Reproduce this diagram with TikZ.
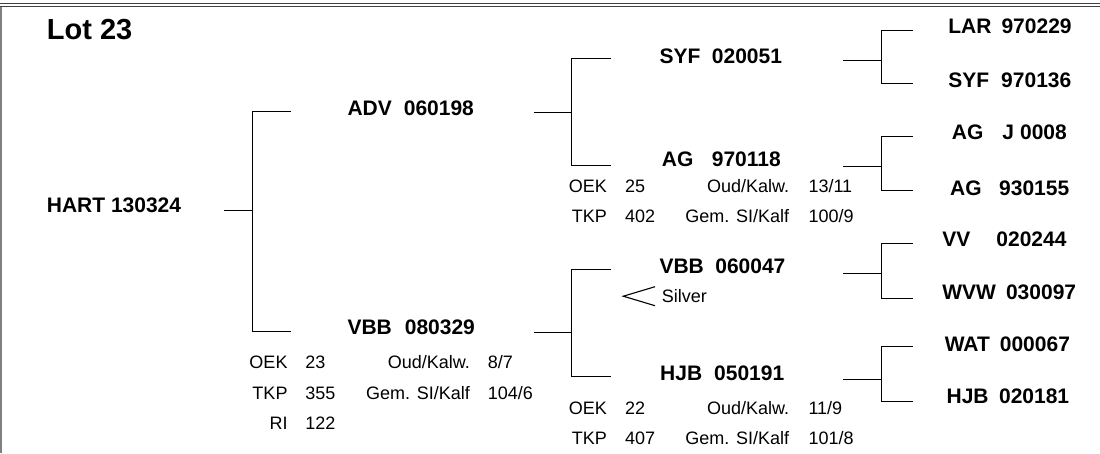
\documentclass[tikz,border=0pt]{standalone}
\usepackage{fontspec}
\setmainfont{Liberation Sans}
\begin{document}
\begin{tikzpicture}[x=1pt,y=-1pt,
  ttlstyle/.style={anchor=base west, inner sep=0pt, font=\fontsize{29}{29}\selectfont\bfseries},
  namestyle/.style={anchor=base west, inner sep=0pt, font=\fontsize{21}{21}\selectfont\bfseries},
  infostyle/.style={inner sep=0pt, font=\fontsize{18}{18}\selectfont},
  labstyle/.style={infostyle, anchor=base east},
  valstyle/.style={infostyle, anchor=base west},
  linkstyle/.style={line width=1pt, black},
  framestyle/.style={line width=1pt, black!75}]
\useasboundingbox (0,0) rectangle (1100,453);
% frame
\draw[framestyle] (0,3.5) -- (1100,3.5);
\draw[framestyle] (0,6.5) -- (1100,6.5);
\draw[line width=1.5pt, black!50] (1,6.5) -- (1,453);

% names
\node[ttlstyle] (lot) at (46.7,39.5) {Lot 23};
\node[namestyle] (hart) at (46.7,212) {HART 130324};
\node[namestyle] (adv) at (347.3,115) {ADV\hspace{12pt}060198};
\node[namestyle] (vbbA) at (347.3,334) {VBB\hspace{13pt}080329};
\node[namestyle] (syfA) at (659.4,63.3) {SYF\hspace{11.5pt}020051};
\node[namestyle] (agA) at (661.7,166.7) {AG\hspace{18.5pt}970118};
\node[namestyle] (vbbB) at (659.3,273.3) {VBB\hspace{11.5pt}060047};
\node[namestyle] (hjbA) at (660,380.7) {HJB\hspace{12pt}050191};
\node[namestyle] (lar) at (948.2,33.3) {LAR\hspace{10pt}970229};
\node[namestyle] (syfB) at (948.2,87) {SYF\hspace{12pt}970136};
\node[namestyle] (agJ) at (951.7,139.3) {AG\hspace{19pt}J\hspace{6pt}0008};
\node[namestyle] (agB) at (950,195) {AG\hspace{17.5pt}930155};
\node[namestyle] (vv) at (942.2,246.7) {VV\hspace{26pt}020244};
\node[namestyle] (wvw) at (942.2,299) {WVW\hspace{10pt}030097};
\node[namestyle] (wat) at (944.6,351.7) {WAT\hspace{10pt}000067};
\node[namestyle] (hjbB) at (946.4,403) {HJB\hspace{10.5pt}020181};

% info VBB 080329
\node[labstyle] (v1l1) at (287.7,368) {OEK};
\node[valstyle] (v1v1) at (305.2,368) {23};
\node[labstyle] (v1l2) at (470,368) {Oud/Kalw.};
\node[valstyle] (v1v2) at (487.6,368) {8/7};
\node[labstyle] (v1l3) at (287.7,399) {TKP};
\node[valstyle] (v1v3) at (305.2,399) {355};
\node[labstyle] (v1l4) at (470,399) {Gem. SI/Kalf};
\node[valstyle] (v1v4) at (487.6,399) {104/6};
\node[labstyle] (v1l5) at (287.7,429) {RI};
\node[valstyle] (v1v5) at (305.2,429) {122};

% info AG 970118
\node[labstyle] (a1l1) at (607,192.7) {OEK};
\node[valstyle] (a1v1) at (625,192.7) {25};
\node[labstyle] (a1l2) at (789.3,192.7) {Oud/Kalw.};
\node[valstyle] (a1v2) at (808.3,192.7) {13/11};
\node[labstyle] (a1l3) at (607,222.7) {TKP};
\node[valstyle] (a1v3) at (625,222.7) {402};
\node[labstyle] (a1l4) at (789.3,222.7) {Gem. SI/Kalf};
\node[valstyle] (a1v4) at (808.3,222.7) {100/9};

% info HJB 050191
\node[labstyle] (h1l1) at (607,414) {OEK};
\node[valstyle] (h1v1) at (625,414) {22};
\node[labstyle] (h1l2) at (789.3,414) {Oud/Kalw.};
\node[valstyle] (h1v2) at (808.3,414) {11/9};
\node[labstyle] (h1l3) at (607,444) {TKP};
\node[valstyle] (h1v3) at (625,444) {407};
\node[labstyle] (h1l4) at (789.3,444) {Gem. SI/Kalf};
\node[valstyle] (h1v4) at (808.3,444) {101/8};

% Silver
\node[valstyle] (silver) at (661.7,302.7) {Silver};
\draw[line width=1.1pt] (655,286.7) -- (623.3,296.2) -- (655,305.7);

% bracket coordinates
\coordinate (b1p) at (223.5,210.5); \coordinate (b1j) at (252.6,210.5);
\coordinate (b1t) at (252.6,111);   \coordinate (b1b) at (252.6,331);
\coordinate (b1te) at (291.2,111);  \coordinate (b1be) at (291.2,331);

\coordinate (b2p) at (534,112);     \coordinate (b2j) at (571.7,112);
\coordinate (b2t) at (571.7,58.3);  \coordinate (b2b) at (571.7,165);
\coordinate (b2te) at (611.4,58.3); \coordinate (b2be) at (611.4,165);

\coordinate (b3p) at (534,332.3);   \coordinate (b3j) at (571.7,332.3);
\coordinate (b3t) at (571.7,269);   \coordinate (b3b) at (571.7,376.7);
\coordinate (b3te) at (611.4,269);  \coordinate (b3be) at (611.4,376.7);

\foreach \n/\py/\ty/\by in {4/60.7/30/83.3, 5/166.7/136/190.7, 6/273.3/243.3/298.3, 7/379.3/346.7/401.7}{
  \coordinate (b\n p) at (842.9,\py); \coordinate (b\n j) at (881.5,\py);
  \coordinate (b\n t) at (881.5,\ty); \coordinate (b\n b) at (881.5,\by);
  \coordinate (b\n te) at (913,\ty);  \coordinate (b\n be) at (913,\by);
}
\foreach \n in {1,...,7}{
  \draw[linkstyle] (b\n p) -- (b\n j);
  \draw[linkstyle] (b\n te) -- (b\n t) -- (b\n b) -- (b\n be);
}
\end{tikzpicture}
\end{document}
